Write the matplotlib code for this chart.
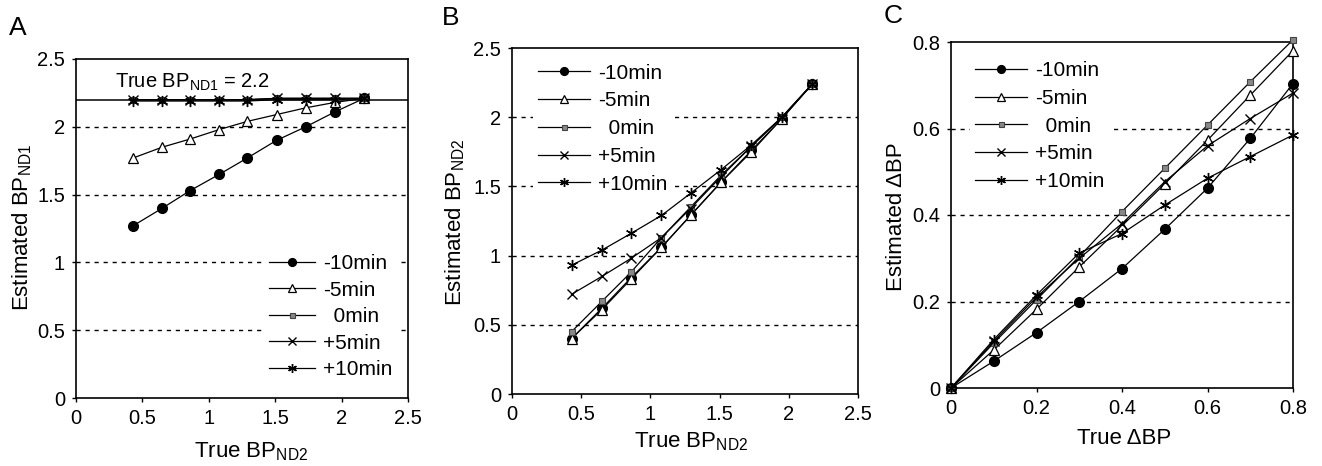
import matplotlib
matplotlib.use("Agg")
import matplotlib.pyplot as plt

plt.rcParams['font.family'] = ['Liberation Sans', 'DejaVu Sans']
plt.rcParams['mathtext.fontset'] = 'custom'
plt.rcParams['mathtext.rm'] = 'Liberation Sans'
plt.rcParams['mathtext.it'] = 'Liberation Sans:italic'

# ---- data ----
labels = ["-10min", "-5min", "\u20020min", "+5min", "+10min"]

# panel A / B : true BP_ND2
true_bp2 = [0.43, 0.65, 0.86, 1.08, 1.29, 1.51, 1.73, 1.95, 2.17]

a_m10 = [1.27, 1.40, 1.53, 1.65, 1.77, 1.90, 2.00, 2.11, 2.21]
a_m5 = [1.77, 1.85, 1.91, 1.98, 2.04, 2.09, 2.14, 2.18, 2.21]
a_0 = [2.20, 2.20, 2.20, 2.20, 2.20, 2.21, 2.21, 2.21, 2.21]
a_p5 = [2.20, 2.20, 2.20, 2.20, 2.20, 2.21, 2.21, 2.21, 2.21]
a_p10 = [2.19, 2.19, 2.19, 2.19, 2.19, 2.20, 2.20, 2.20, 2.21]
true_bp1 = 2.2

b_m10 = [0.40, 0.62, 0.84, 1.06, 1.29, 1.53, 1.76, 1.99, 2.24]
b_m5 = [0.40, 0.61, 0.83, 1.06, 1.29, 1.53, 1.75, 1.99, 2.24]
b_0 = [0.45, 0.67, 0.88, 1.13, 1.35, 1.58, 1.79, 2.00, 2.24]
b_p5 = [0.72, 0.85, 0.98, 1.13, 1.34, 1.57, 1.79, 2.00, 2.24]
b_p10 = [0.93, 1.04, 1.16, 1.29, 1.45, 1.62, 1.80, 2.00, 2.24]

# panel C : true delta BP
true_dbp = [0, 0.1, 0.2, 0.3, 0.4, 0.5, 0.6, 0.7, 0.8]
c_m10 = [0, 0.062, 0.128, 0.200, 0.276, 0.367, 0.462, 0.577, 0.704]
c_m5 = [0, 0.088, 0.182, 0.280, 0.375, 0.472, 0.573, 0.677, 0.780]
c_0 = [0, 0.104, 0.204, 0.304, 0.408, 0.508, 0.608, 0.708, 0.805]
c_p5 = [0, 0.108, 0.210, 0.300, 0.380, 0.477, 0.560, 0.623, 0.682]
c_p10 = [0, 0.112, 0.215, 0.312, 0.357, 0.423, 0.485, 0.535, 0.585]

ticks_bp = [0, 0.5, 1, 1.5, 2, 2.5]
ticklabels_bp = ["0", "0.5", "1", "1.5", "2", "2.5"]
ticks_dbp = [0, 0.2, 0.4, 0.6, 0.8]
ticklabels_dbp = ["0", "0.2", "0.4", "0.6", "0.8"]

styles = [
    dict(marker='o', ms=7, mfc='black', mec='black'),
    dict(marker='^', ms=6.5, mfc='white', mec='black', mew=0.9),
    dict(marker='s', ms=4.5, mfc='#888888', mec='#444444', mew=0.8),
    dict(marker='x', ms=7, mfc='none', mec='black', mew=1.0),
    dict(marker=(6, 2, 0), ms=8, mfc='none', mec='black', mew=1.0),
]

W, H = 1322, 466
fig = plt.figure(figsize=(W / 100, H / 100), dpi=100)


def px_axes(l, t, r, b):
    return fig.add_axes([l / W, 1 - b / H, (r - l) / W, (b - t) / H])


def setup(ax, lim, ticks, ticklabels, grid):
    ax.set_xlim(lim)
    ax.set_ylim(lim)
    ax.set_xticks(ticks)
    ax.set_xticklabels(ticklabels)
    ax.set_yticks(ticks)
    ax.set_yticklabels(ticklabels)
    ax.tick_params(direction='out', length=3, width=1, labelsize=14.5, pad=5,
                   top=False, right=False)
    for s in ax.spines.values():
        s.set_linewidth(1.2)
    for g in grid:
        ax.axhline(g, color='black', lw=1.0, ls=(0, (3, 3.5)), zorder=0.5)


def draw(ax, xs, series):
    for ys, lab, st in zip(series, labels, styles):
        ax.plot(xs, ys, color='black', lw=0.9, label=lab, zorder=3,
                clip_on=False, **st)


def legend(ax, anchor, spacing, hl):
    leg = ax.legend(loc='upper left', bbox_to_anchor=anchor, frameon=True,
                    fontsize=15, handlelength=hl, handletextpad=0.4,
                    labelspacing=spacing, borderpad=0.25, borderaxespad=0,
                    markerscale=0.8)
    leg.get_frame().set_edgecolor('none')
    leg.get_frame().set_facecolor('white')
    leg.get_frame().set_alpha(1)
    return leg


# ---- A ----
axA = px_axes(76, 59, 408, 398)
setup(axA, (0, 2.5), ticks_bp, ticklabels_bp, [0.5, 1, 1.5, 2])
axA.axhline(true_bp1, color='black', lw=1.1, zorder=2)
draw(axA, true_bp2, [a_m10, a_m5, a_0, a_p5, a_p10])
axA.text(0.29, 2.33, r"True BP$_{\mathrm{ND1}}$ = 2.2", fontsize=14.5, va='center')
legend(axA, (0.565, 0.44), 0.36, 2.2)

# ---- B ----
axB = px_axes(512, 48, 858, 394)
setup(axB, (0, 2.5), ticks_bp, ticklabels_bp, [0.5, 1, 1.5, 2])
draw(axB, true_bp2, [b_m10, b_m5, b_0, b_p5, b_p10])
legend(axB, (0.06, 0.97), 0.42, 2.5)

# ---- C ----
axC = px_axes(951, 42, 1293, 388)
setup(axC, (0, 0.8), ticks_dbp, ticklabels_dbp, [0.2, 0.4, 0.6])
draw(axC, true_dbp, [c_m10, c_m5, c_0, c_p5, c_p10])
legend(axC, (0.055, 0.96), 0.42, 2.5)

# ---- axis labels and panel letters (pixel placed) ----
def ftext(x, y, s, **kw):
    fig.text(x / W, 1 - y / H, s, **kw)


ftext(251, 457, r"True BP$_{\mathrm{ND2}}$", fontsize=16, ha='center', va='baseline')
ftext(691, 447, r"True BP$_{\mathrm{ND2}}$", fontsize=16, ha='center', va='baseline')
ftext(1124, 444, "True \u0394BP", fontsize=16, ha='center', va='baseline')

ftext(22, 227, r"Estimated BP$_{\mathrm{ND1}}$", fontsize=16, rotation=90,
      ha='center', va='center')
ftext(455, 222, r"Estimated BP$_{\mathrm{ND2}}$", fontsize=16, rotation=90,
      ha='center', va='center')
ftext(897, 217, "Estimated \u0394BP", fontsize=16, rotation=90,
      ha='center', va='center')

ftext(9, 35, "A", fontsize=19, va='baseline')
ftext(442, 25, "B", fontsize=19, va='baseline')
ftext(884, 23, "C", fontsize=19, va='baseline')

fig.savefig("out.png", dpi=100)
